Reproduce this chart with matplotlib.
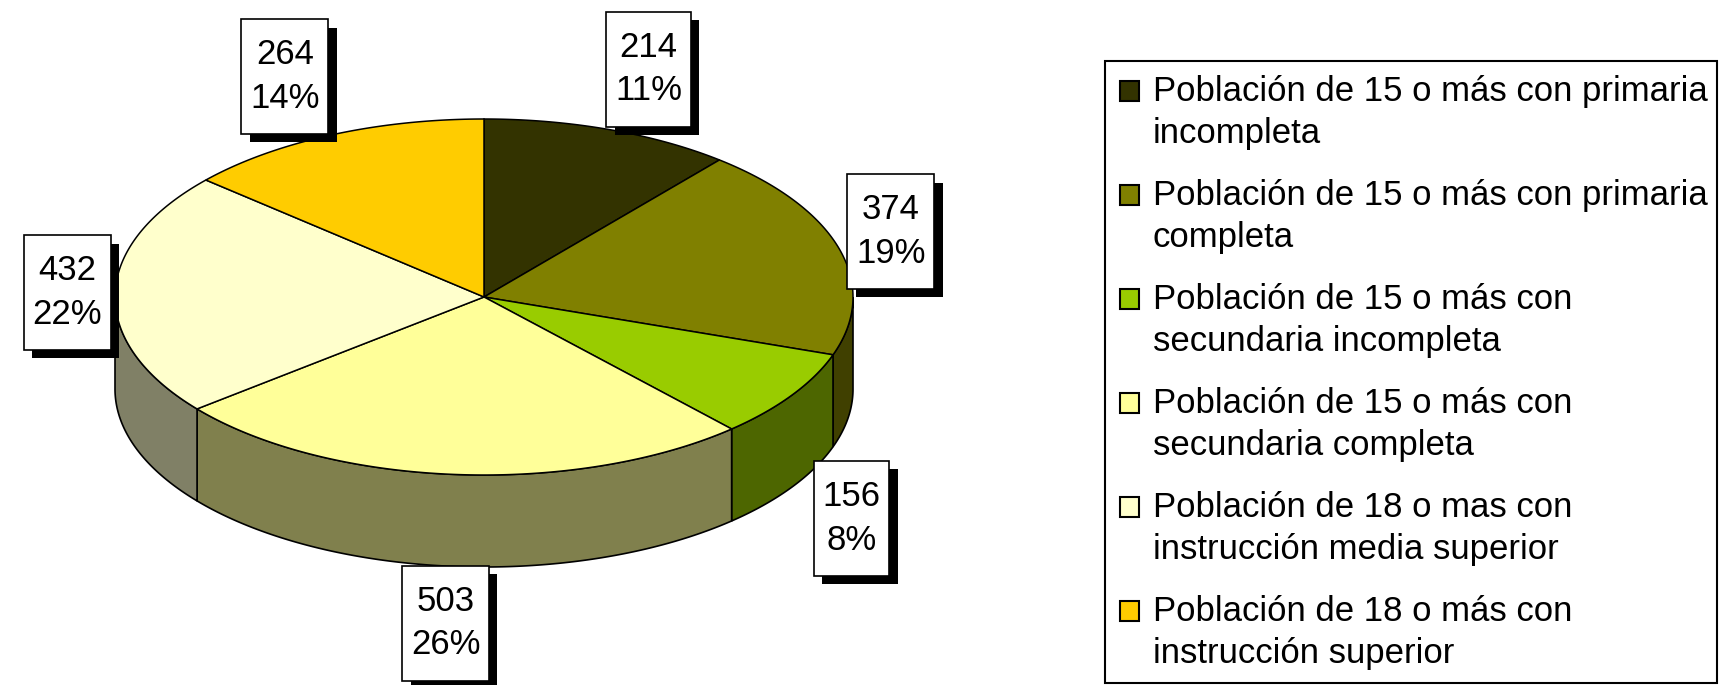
# 3D-style pie of education levels with boxed value labels and a legend on the right
import numpy as np
import matplotlib.pyplot as plt
from matplotlib.patches import Polygon, Rectangle
import matplotlib.patheffects as pe
from matplotlib.colors import to_rgb

plt.rcParams['font.family'] = ['Liberation Sans', 'DejaVu Sans']

values = [214, 374, 156, 503, 432, 264]
categories = [
    "Población de 15 o más con primaria\nincompleta",
    "Población de 15 o más con primaria\ncompleta",
    "Población de 15 o más con\nsecundaria incompleta",
    "Población de 15 o más con\nsecundaria completa",
    "Población de 18 o mas con\ninstrucción media superior",
    "Población de 18 o más con\ninstrucción superior",
]
colors = ['#333300', '#808000', '#99CC00', '#FFFF99', '#FFFFCC', '#FFCC00']

# geometry (pixels, y down)
cx, cy = 484, 297
rx, ry = 369, 178
depth = 92
fs = 25

fig = plt.figure(figsize=(17.2, 6.85), dpi=100)
ax = fig.add_axes([0, 0, 1, 1])
ax.set_xlim(0, 1720)
ax.set_ylim(685, 0)
ax.axis('off')

vals = np.array(values, dtype=float)
total = vals.sum()
cum = np.concatenate([[0], np.cumsum(vals)]) / total
starts = 90 - 360 * cum[:-1]
ends = 90 - 360 * cum[1:]


def arc(a, b, dy=0, n=200):
    t = np.radians(np.linspace(a, b, n))
    return np.column_stack([cx + rx * np.cos(t), cy - ry * np.sin(t) + dy])


# side walls, only the front half (-180..0 degrees) is visible
for s, e, c in zip(starts, ends, colors):
    hi, lo = min(s, 0), max(e, -180)
    if hi <= lo:
        continue
    side = np.vstack([arc(hi, lo), arc(lo, hi, dy=depth)])
    ax.add_patch(Polygon(side, closed=True, fc=np.array(to_rgb(c)) * 0.5,
                         ec='black', lw=1.2, zorder=1))

# top surface
for s, e, c in zip(starts, ends, colors):
    top = np.vstack([[cx, cy], arc(s, e)])
    ax.add_patch(Polygon(top, closed=True, fc=c, ec='black', lw=1.1, zorder=2))

# value labels
for s, e, v in zip(starts, ends, values):
    m = np.radians((s + e) / 2)
    kx = 1.13 + 0.21 * np.sin(m) ** 2
    lx = cx + kx * rx * np.cos(m)
    if np.sin(m) < -0.05:
        ly = cy + depth - 1.32 * ry * np.sin(m)
    else:
        ly = cy - 1.36 * ry * np.sin(m)
    pct = round(v / total * 100)
    t = ax.text(lx, ly, f"{v}\n{pct}%", ha='center', va='center', fontsize=fs,
                multialignment='center', linespacing=1.4, zorder=6,
                bbox=dict(boxstyle='square,pad=0.25', mutation_aspect=2.2,
                          fc='white', ec='black', lw=1.2))
    t.get_bbox_patch().set_path_effects([
        pe.SimplePatchShadow(offset=(6, -6), shadow_rgbFace='black', alpha=1.0),
        pe.Normal()])

# legend
ax.add_patch(Rectangle((1105, 61), 612, 622, fc='white', ec='black', lw=1.5, zorder=3))
for i, (lab, c) in enumerate(zip(categories, colors)):
    y0 = 101 + i * 104
    ax.add_patch(Rectangle((1120, y0 - 20), 19, 20, fc=c, ec='black', lw=1.5, zorder=4))
    for j, line in enumerate(lab.split("\n")):
        ax.text(1153, y0 + j * 42, line, fontsize=fs, va='baseline', ha='left', zorder=4)

plt.savefig('out.png', dpi=100)
